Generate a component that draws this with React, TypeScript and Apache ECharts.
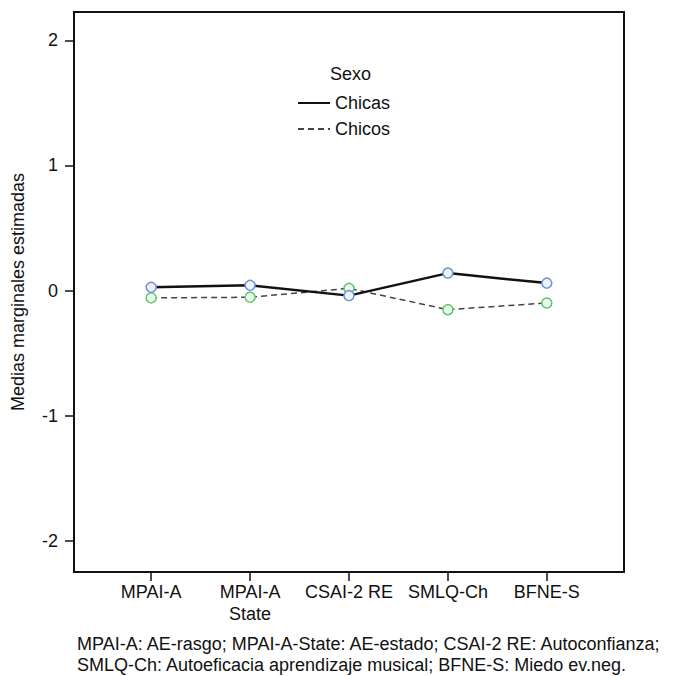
import React, { useEffect, useRef } from "react";
import * as echarts from "echarts";

const categories = ["MPAI-A", "MPAI-A\nState", "CSAI-2 RE", "SMLQ-Ch", "BFNE-S"];
const chicas = [0.026, 0.042, -0.04, 0.14, 0.06];
const chicos = [-0.058, -0.053, 0.018, -0.152, -0.099];
const yTicks = [-2, -1, 0, 1, 2];
const xTicks = [0, 1, 2, 3, 4];
const footnote = [
  "MPAI-A: AE-rasgo; MPAI-A-State: AE-estado; CSAI-2 RE: Autoconfianza;",
  "SMLQ-Ch: Autoeficacia aprendizaje musical; BFNE-S: Miedo ev.neg.",
];

const FONT = "Liberation Sans, Arial, Helvetica, sans-serif";

export default function App() {
  const ref = useRef<HTMLDivElement>(null);
  useEffect(() => {
    document.body.style.margin = "0";
    const chart = echarts.init(ref.current!, null, { renderer: "svg" });
    const textStyle = { fontFamily: FONT, fontSize: 18, color: "#111" };
    chart.setOption({
      animation: false,
      backgroundColor: "#fff",
      textStyle,
      grid: {
        left: 74,
        right: 57,
        top: 12,
        bottom: 104,
        show: true,
        borderColor: "#111",
        borderWidth: 2,
        backgroundColor: "transparent",
      },
      xAxis: {
        type: "value",
        min: -0.78,
        max: 4.78,
        splitLine: { show: false },
        axisLine: { show: true, onZero: false, lineStyle: { color: "#111", width: 2 } },
        axisTick: { show: true, length: 9, customValues: xTicks, lineStyle: { color: "#111", width: 1.5 } },
        axisLabel: {
          customValues: xTicks,
          formatter: (v: number) => categories[Math.round(v)] ?? "",
          fontFamily: FONT,
          fontSize: 18,
          color: "#111",
          lineHeight: 22,
          margin: 9,
        },
      },
      yAxis: {
        type: "value",
        min: -2.248,
        max: 2.226,
        name: "Medias marginales estimadas",
        nameLocation: "middle",
        nameGap: 47,
        nameTextStyle: { fontFamily: FONT, fontSize: 18, color: "#111" },
        splitLine: { show: false },
        axisLine: { show: true, onZero: false, lineStyle: { color: "#111", width: 2 } },
        axisTick: { show: true, length: 9, customValues: yTicks, lineStyle: { color: "#111", width: 1.5 } },
        axisLabel: {
          customValues: yTicks,
          fontFamily: FONT,
          fontSize: 18,
          color: "#111",
          margin: 16,
        },
      },
      legend: {
        orient: "vertical",
        left: 297,
        top: 94,
        padding: 0,
        itemWidth: 32,
        itemHeight: 14,
        itemGap: 8,
        textStyle: { fontFamily: FONT, fontSize: 18, color: "#111", padding: [0, 0, 0, 0] },
        itemStyle: { opacity: 0 },
        data: ["Chicas", "Chicos"],
      },
      graphic: [
        {
          type: "text",
          left: 330,
          top: 65,
          style: { text: "Sexo", font: `18px ${FONT}`, fill: "#111" },
        },
        {
          type: "text",
          left: 77,
          top: 633,
          style: {
            text: footnote.join("\n"),
            font: `18px ${FONT}`,
            fill: "#111",
            lineHeight: 21,
          },
        },
      ],
      series: [
        {
          name: "Chicas",
          type: "line",
          data: chicas.map((v, i) => [i, v]),
          symbol: "circle",
          symbolSize: 10,
          lineStyle: { color: "#111", width: 2.5 },
          itemStyle: { color: "#eef2fb", borderColor: "#7090d8", borderWidth: 1.5 },
          z: 3,
        },
        {
          name: "Chicos",
          type: "line",
          data: chicos.map((v, i) => [i, v]),
          symbol: "circle",
          symbolSize: 10,
          lineStyle: { color: "#444", width: 1.5, type: [6, 4] },
          itemStyle: { color: "#eefaf0", borderColor: "#5cc86a", borderWidth: 1.5 },
          z: 2,
        },
      ],
    });
    return () => chart.dispose();
  }, []);
  return <div ref={ref} style={{ width: 681, height: 676 }} />;
}
